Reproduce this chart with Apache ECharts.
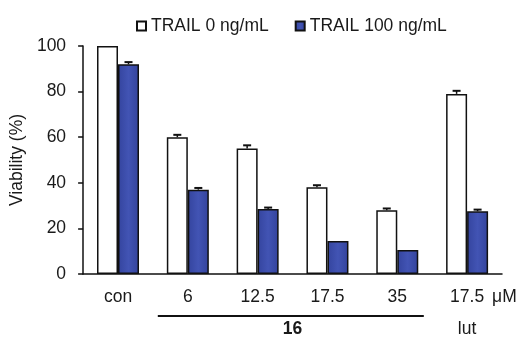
<!DOCTYPE html>
<html><head><meta charset="utf-8">
<script src="https://cdn.jsdelivr.net/npm/echarts@6/dist/echarts.min.js"></script>
<style>html,body{margin:0;padding:0;background:#fff}#c{width:531px;height:337px}</style>
</head><body><div id="c"></div>
<script>
const categories = ['con', '6', '12.5', '17.5', '35', '17.5'];
const trail0 = [100, 60, 55, 38, 28, 79];
const trail0Err = [0, 0.6, 1.0, 0.5, 0.3, 0.9];
const trail100 = [92, 37, 28.5, 14.5, 10.5, 27.5];
const trail100Err = [0.5, 0.3, 0.2, 0, 0, 0.3];
const seriesNames = ['TRAIL 0 ng/mL', 'TRAIL 100 ng/mL'];
const unitLabel = 'μM';
const groupLabel16 = '16';
const groupLabelLut = 'lut';

const FONT = 'Liberation Sans, Arial, sans-serif';
const FS = 17.5;
const TXT = '#1a1a1a';
const BAR_W = 21;
const blueFill = new echarts.graphic.LinearGradient(0, 0, 1, 0, [
  {offset: 0, color: '#34449e'}, {offset: 0.5, color: '#4254b4'}, {offset: 1, color: '#33439c'}
]);

function errSeries(vals, errs, dir) {
  return {
    type: 'custom',
    silent: true,
    z: 5,
    data: vals.map((v, i) => [i, v, errs[i]]),
    renderItem: function (params, api) {
      const e = api.value(2);
      if (!e) return null;
      const c = api.value(0), v = api.value(1);
      const base = api.coord([c, v]);
      const top = api.coord([c, v + e]);
      const x = base[0] + dir * BAR_W / 2;
      return {
        type: 'group',
        children: [
          {type: 'line', shape: {x1: x, y1: base[1], x2: x, y2: top[1] - 1}, style: {stroke: '#111', lineWidth: 1.5}},
          {type: 'line', shape: {x1: x - 4, y1: top[1] - 1, x2: x + 4, y2: top[1] - 1}, style: {stroke: '#111', lineWidth: 2}}
        ]
      };
    }
  };
}

const chart = echarts.init(document.getElementById('c'), null, {renderer: 'canvas'});
chart.setOption({
  animation: false,
  backgroundColor: '#fff',
  grid: {left: 80, right: 29, top: 46, bottom: 63, containLabel: false},
  legend: {
    left: 131, top: 12,
    icon: 'rect', itemWidth: 9, itemHeight: 9, itemGap: 26,
    textStyle: {fontFamily: FONT, fontSize: FS, color: TXT},
    data: seriesNames
  },
  xAxis: {
    type: 'category',
    data: categories,
    axisLine: {lineStyle: {color: '#111', width: 1.5}},
    axisTick: {inside: true, length: 5, lineStyle: {color: '#111', width: 1.5}},
    axisLabel: {fontFamily: FONT, fontSize: FS, color: TXT, margin: 14}
  },
  yAxis: {
    type: 'value', min: 0, max: 100, interval: 20,
    name: 'Viability (%)', nameLocation: 'middle', nameGap: 55,
    nameTextStyle: {fontFamily: FONT, fontSize: FS, color: TXT},
    splitLine: {show: false},
    axisLine: {show: true, lineStyle: {color: '#111', width: 1.5}},
    axisTick: {show: true, length: 5, lineStyle: {color: '#111', width: 1.5}},
    axisLabel: {fontFamily: FONT, fontSize: FS, color: TXT, margin: 17}
  },
  series: [
    {name: seriesNames[0], type: 'bar', data: trail0, barWidth: BAR_W, barGap: '0%',
     itemStyle: {color: '#fff', borderColor: '#111', borderWidth: 1.5}},
    {name: seriesNames[1], type: 'bar', data: trail100, barWidth: BAR_W, barGap: '0%',
     itemStyle: {color: blueFill, borderColor: '#111', borderWidth: 1.5}},
    errSeries(trail0, trail0Err, -1),
    errSeries(trail100, trail100Err, 1)
  ]
});

const p1 = chart.convertToPixel({xAxisIndex: 0}, 1);
const p4 = chart.convertToPixel({xAxisIndex: 0}, 4);
const p5 = chart.convertToPixel({xAxisIndex: 0}, 5);
const step = p5 - p4;
chart.setOption({
  graphic: [
    {type: 'line', shape: {x1: p1 - step * 0.43, y1: 316, x2: p4 + step * 0.38, y2: 316},
     style: {stroke: '#111', lineWidth: 2}},
    {type: 'text', x: (p1 + p4) / 2, y: 329,
     style: {text: groupLabel16, font: 'bold ' + FS + 'px ' + FONT, fill: TXT, align: 'center', verticalAlign: 'middle'}},
    {type: 'text', x: p5, y: 329,
     style: {text: groupLabelLut, font: FS + 'px ' + FONT, fill: TXT, align: 'center', verticalAlign: 'middle'}},
    {type: 'text', x: p5 + 25, y: 297,
     style: {text: unitLabel, font: FS + 'px ' + FONT, fill: TXT, align: 'left', verticalAlign: 'middle'}}
  ]
});
</script></body></html>
